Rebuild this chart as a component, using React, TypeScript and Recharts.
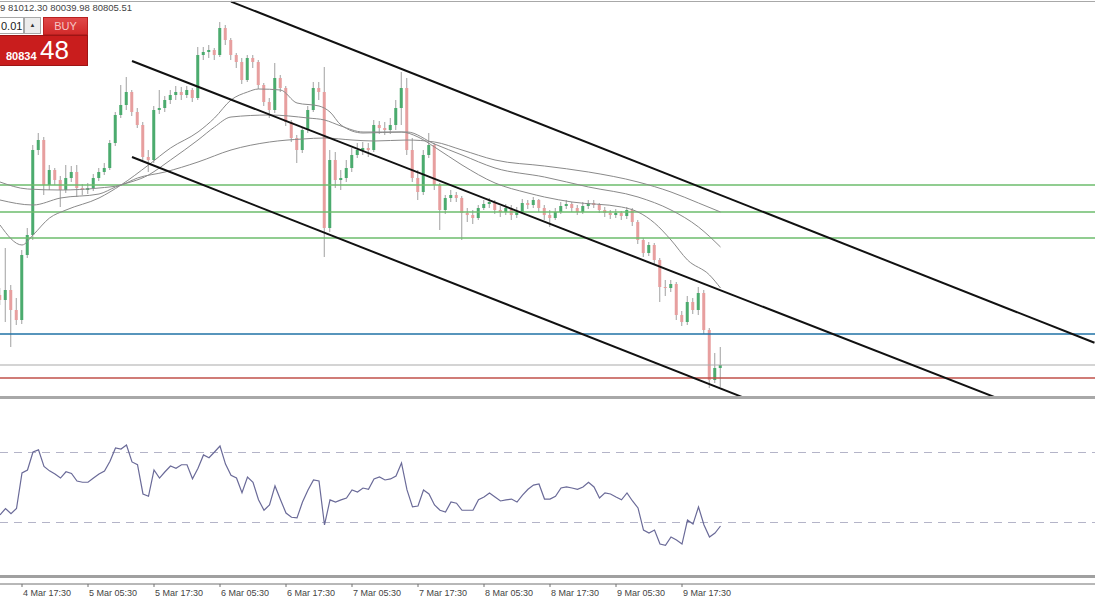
import React from 'react';
import { ComposedChart, Bar, Line, XAxis, YAxis, ReferenceLine } from 'recharts';

// H1 candles, 4 Mar 13:30 .. 9 Mar 20:30
const FIRST_OPEN = 82625;
const CLOSES = [
  82500, 82750, 82250, 82000, 83625, 84125, 86250, 86500, 85375, 85750,
  85500, 85250, 85550, 85700, 85300, 85250, 85300, 85550, 85700, 85800,
  86425, 87125, 87375, 87700, 87200, 86875, 86075, 86000, 87250, 87300,
  87500, 87625, 87700, 87625, 87750, 87550, 88625, 88700, 88750, 88625,
  89300, 89000, 88625, 88450, 88000, 88550, 88450, 87875, 87450, 87250,
  88050, 87800, 86950, 86550, 86250, 86750, 87250, 87800, 87700, 84300,
  86000, 85500, 85550, 85800, 86125, 86250, 86300, 86250, 86875, 86800,
  86750, 86875, 87300, 87800, 86250, 85550, 85200, 86125, 86375, 85375,
  84750, 85050, 85125, 85050, 84675, 84625, 84550, 84800, 84900, 84950,
  84750, 84700, 84800, 84625, 84700, 84925, 84875, 85000, 84800, 84625,
  84550, 84700, 84850, 84900, 84800, 84700, 84850, 84925, 84875, 84750,
  84675, 84625, 84675, 84600, 84750, 84450, 84000, 83675, 83875, 83500,
  82825, 82800, 82900, 82125, 81950, 82450, 82250, 82675, 81750, 80500,
  80800, 80875,
];
const HIGHS = [
  82800, 83800, 82875, 82550, 83750, 84300, 86375, 86675, 86575, 85875,
  85800, 85600, 85875, 85850, 85875, 85400, 85425, 85650, 85800, 85925,
  86500, 87200, 87875, 88075, 87750, 87300, 86950, 86250, 87350, 87750,
  87600, 87750, 87850, 87825, 87850, 87800, 88825, 88825, 88875, 88800,
  89450, 89375, 89050, 88675, 88550, 88625, 88625, 88500, 87925, 87550,
  88425, 88125, 87850, 87000, 86625, 86825, 87350, 87950, 87950, 88325,
  86250, 86200, 85750, 86000, 86300, 86425, 86450, 86425, 87000, 86975,
  86950, 87050, 87500, 88200, 88050, 86550, 85750, 86250, 86675, 86425,
  85425, 85125, 85250, 85200, 85100, 84800, 84750, 84875, 85000, 85050,
  85000, 84850, 84900, 84875, 84825, 85025, 85000, 85075, 85025, 84875,
  84750, 84800, 84950, 85000, 84950, 84875, 84950, 85000, 85000, 84925,
  84825, 84750, 84775, 84725, 84825, 84800, 84500, 84050, 83950, 83925,
  83550, 83000, 83000, 82950, 82225, 82600, 82550, 82825, 82750, 81800,
  81175, 81325,
];
const LOWS = [
  82375, 81950, 81325, 81875, 81900, 83550, 84000, 86125, 85125, 85250,
  85375, 84825, 85175, 85450, 85075, 85125, 85150, 85225, 85475, 85625,
  85750, 86350, 87050, 87250, 87100, 86800, 86000, 85700, 85925, 87150,
  87200, 87400, 87500, 87500, 87550, 87450, 87500, 88500, 88550, 88500,
  88575, 88875, 88500, 88300, 87900, 87950, 88300, 87775, 87350, 87050,
  87175, 87700, 86850, 86450, 85925, 86175, 86675, 87200, 87500, 83575,
  84200, 85300, 85250, 85450, 85700, 86050, 86125, 86075, 86200, 86650,
  86625, 86650, 86750, 86875, 86125, 85450, 85000, 85125, 86050, 85250,
  84250, 84650, 84950, 84950, 84000, 84450, 84400, 84500, 84750, 84800,
  84650, 84575, 84625, 84500, 84550, 84650, 84775, 84800, 84700, 84500,
  84325, 84500, 84650, 84775, 84700, 84625, 84650, 84775, 84800, 84675,
  84575, 84525, 84550, 84500, 84525, 84350, 83900, 83575, 83600, 83400,
  82450, 82600, 82700, 82000, 81850, 81875, 82150, 82125, 81650, 80300,
  80425, 80325,
];

// oscillator, one value per candle
const RSI = [
  34.3, 38, 35, 38, 58.3, 60, 70.3, 71.5, 62, 59.5,
  57.7, 55.4, 59, 58, 53.7, 53, 53, 55.4, 57.7, 59.4,
  65, 72.6, 72, 74.3, 64.6, 63, 46.3, 45, 60, 55.4,
  59, 62.3, 61, 63, 63, 55, 61, 68.6, 67, 70.3,
  73.7, 63.4, 57, 55.4, 47, 56, 53, 43, 37, 40,
  50.9, 43, 35.4, 33, 32.6, 41.7, 48.6, 54.3, 53.7, 28.6,
  42.9, 41.7, 42.9, 44, 48.6, 47.4, 49.7, 49, 54.9, 56,
  54.3, 54.9, 56.6, 64, 48.6, 38.9, 39.4, 48.6, 46.3, 40,
  37, 36, 41.7, 41, 37, 37, 37, 43, 44.6, 46.9,
  44.6, 42.3, 42.9, 43.4, 41.7, 45.7, 49, 51.4, 52, 43.4,
  43.4, 45, 49.7, 50.3, 49.7, 49, 50.3, 53, 50.3, 44,
  46.9, 46.3, 44.6, 43, 46.9, 42.3, 38.3, 25.7, 24, 25.7,
  17.7, 17, 21.7, 20, 17.7, 31.4, 29.1, 38.9, 28.6, 21.7,
  24, 28,
];

// moving averages: [bar, price]
const MA_FAST = [
  [0, 84375], [4, 83875], [6, 84125], [9, 84550], [12, 84750], [18, 85050],
  [22, 85375], [27, 85875], [31, 86300], [36, 86700], [39, 87050], [42, 87500],
  [45, 87700], [47, 87775], [51, 87750], [54, 87425], [58, 87350], [60, 87200],
  [62, 86875], [66, 86675], [73, 86700], [76, 86575], [79, 86325], [84, 85875],
  [90, 85425], [96, 85175], [99, 85075], [104, 84950], [113, 84825], [116, 84700],
  [119, 84425], [122, 84000], [125, 83500], [129, 83125], [131, 82800],
];
const MA_MID = [
  [0, 85000], [6, 84875], [11, 85050], [18, 85150], [21, 85325], [27, 85625],
  [31, 86000], [36, 86500], [39, 86825], [42, 87075], [49, 87125], [56, 87050],
  [59, 87000], [62, 86850], [66, 86700], [74, 86700], [79, 86400], [84, 86125],
  [90, 85800], [99, 85575], [107, 85325], [116, 85075], [122, 84750], [127, 84325],
  [131, 83825],
];
const MA_SLOW = [
  [0, 85450], [5, 85275], [11, 85250], [18, 85300], [22, 85375], [25, 85550],
  [30, 85700], [36, 85950], [42, 86250], [49, 86450], [55, 86525], [59, 86550],
  [64, 86500], [68, 86475], [74, 86500], [79, 86450], [84, 86250], [90, 86000],
  [99, 85850], [107, 85700], [116, 85450], [122, 85200], [127, 84925], [131, 84700],
];

const LEVELS_GREEN = [85375, 84700, 84050];
const LEVEL_BLUE = 81650;
const LEVEL_BID = 80875;
const LEVEL_RED = 80550;

// trend channel: [[bar, price], [bar, price]]
const CHANNEL = [
  [[42, 89960], [199, 81430]],
  [[24, 88475], [181, 80065]],
  [[24, 86075], [135, 80072]],
];

const TICK_BARS = [4, 16, 28, 40, 52, 64, 76, 88, 100, 112, 124];
const TICK_LABELS = [
  '4 Mar 17:30', '5 Mar 05:30', '5 Mar 17:30', '6 Mar 05:30', '6 Mar 17:30', '7 Mar 05:30',
  '7 Mar 17:30', '8 Mar 05:30', '8 Mar 17:30', '9 Mar 05:30', '9 Mar 17:30',
];

const HEADER = '9 81012.30 80039.98 80805.51';

const W = 1095;
const X_MAX = W / 5.5;
const FONT = '"Liberation Sans", Arial, sans-serif';
const BULL = '#4bab6e';
const BEAR = '#e79f9f';

const candles = CLOSES.map((close, i) => ({
  bar: i,
  open: i === 0 ? FIRST_OPEN : CLOSES[i - 1],
  close,
  high: HIGHS[i],
  low: LOWS[i],
  range: [LOWS[i], HIGHS[i]],
}));
const rsiData = RSI.map((rsi, i) => ({ bar: i, rsi }));
const toPoints = (arr: number[][]) => arr.map(([bar, value]) => ({ bar, value }));

function Candle(props: any) {
  const { x, y, width, height, payload } = props;
  if (!payload) return null;
  const top = Math.min(y, y + height);
  const h = Math.abs(height);
  const { open, close, high, low } = payload;
  const toY = (v: number) => top + ((high - v) / (high - low)) * h;
  const bTop = toY(Math.max(open, close));
  const bBot = toY(Math.min(open, close));
  const cx = x + width / 2;
  return (
    <g>
      <line x1={cx} x2={cx} y1={top} y2={top + h} stroke="#a0a0a0" strokeWidth={1} />
      <rect x={x} y={bTop} width={width} height={Math.max(1, bBot - bTop)} fill={close >= open ? BULL : BEAR} />
    </g>
  );
}

function AxisTick(props: any) {
  const { x, y, payload } = props;
  const idx = TICK_BARS.indexOf(payload.value);
  return (
    <text x={x + 1} y={y} dy={7} fontSize={9} fill="#444" textAnchor="start" fontFamily={FONT}>
      {TICK_LABELS[idx]}
    </text>
  );
}

const maProps = {
  dataKey: 'value',
  type: 'monotone' as const,
  stroke: '#8a8a8a',
  strokeWidth: 1,
  dot: false,
  activeDot: false,
  isAnimationActive: false,
};

export default function App() {
  return (
    <div style={{ position: 'fixed', left: 0, top: 0, width: W, height: 600, background: '#fff', overflow: 'hidden', fontFamily: FONT }}>
      <div style={{ position: 'absolute', left: 0, top: 0 }}>
        <ComposedChart width={W} height={398} data={candles} margin={{ top: 0, right: 0, bottom: 0, left: 0 }}>
          <XAxis type="number" dataKey="bar" domain={[0, X_MAX]} hide allowDataOverflow />
          <YAxis type="number" domain={[80050, 90000]} hide allowDataOverflow />
          {LEVELS_GREEN.map((p) => (
            <ReferenceLine key={p} y={p} stroke="#6cbd6c" strokeWidth={1.5} />
          ))}
          <ReferenceLine y={LEVEL_BLUE} stroke="#1f72a6" strokeWidth={1.5} />
          <ReferenceLine y={LEVEL_BID} stroke="#a9a9a9" strokeWidth={1} />
          <ReferenceLine y={LEVEL_RED} stroke="#c0504a" strokeWidth={1.5} />
          <Bar dataKey="range" barSize={3} shape={<Candle />} isAnimationActive={false} />
          <Line data={toPoints(MA_SLOW)} {...maProps} />
          <Line data={toPoints(MA_MID)} {...maProps} />
          <Line data={toPoints(MA_FAST)} {...maProps} />
          {CHANNEL.map((seg, k) => (
            <ReferenceLine
              key={k}
              segment={[{ x: seg[0][0], y: seg[0][1] }, { x: seg[1][0], y: seg[1][1] }]}
              stroke="#111"
              strokeWidth={2}
              ifOverflow="hidden"
            />
          ))}
        </ComposedChart>
      </div>

      <div style={{ position: 'absolute', left: 0, top: 400 }}>
        <ComposedChart width={W} height={200} data={rsiData} margin={{ top: 0, right: 0, bottom: 0, left: 0 }}>
          <XAxis
            type="number"
            dataKey="bar"
            domain={[0, X_MAX]}
            ticks={TICK_BARS}
            interval={0}
            tick={<AxisTick />}
            tickSize={3}
            axisLine={{ stroke: '#707070' }}
            tickLine={{ stroke: '#707070' }}
            height={16}
            allowDataOverflow
          />
          <YAxis type="number" domain={[-5.14, 100]} hide allowDataOverflow />
          <ReferenceLine y={70} stroke="#b4b4c8" strokeDasharray="8 6" />
          <ReferenceLine y={30} stroke="#b4b4c8" strokeDasharray="8 6" />
          <Line dataKey="rsi" type="linear" stroke="#6a6a98" strokeWidth={1.2} dot={false} activeDot={false} isAnimationActive={false} />
        </ComposedChart>
      </div>

      {/* frame */}
      <div style={{ position: 'absolute', left: 0, top: 1, width: W, height: 1, background: '#a8a8a8' }} />
      <div style={{ position: 'absolute', left: 0, top: 396, width: W, height: 3, background: '#a8a8a8' }} />
      <div style={{ position: 'absolute', left: 0, top: 575, width: W, height: 3, background: '#a0a0a0' }} />

      {/* header values */}
      <div style={{ position: 'absolute', left: 0, top: 2, fontSize: 9.5, color: '#444', whiteSpace: 'nowrap' }}>{HEADER}</div>

      {/* one-click trading panel */}
      <div style={{ position: 'absolute', left: 0, top: 17, width: 24, height: 17, background: '#fff', border: '1px solid #a8a8a8', borderLeft: 'none', boxSizing: 'border-box', fontSize: 11, color: '#222', lineHeight: '16px', paddingLeft: 1 }}>
        0.01
      </div>
      <div style={{ position: 'absolute', left: 24, top: 17, width: 17, height: 17, background: '#ececec', border: '1px solid #a8a8a8', boxSizing: 'border-box', fontSize: 6, color: '#333', textAlign: 'center', lineHeight: '15px' }}>
        ▲
      </div>
      <div style={{ position: 'absolute', left: 43, top: 17, width: 45, height: 18, background: 'linear-gradient(#e04848, #d22a2a)', border: '1px solid #b82020', boxSizing: 'border-box', fontSize: 11, color: '#f7c6c6', textAlign: 'center', lineHeight: '16px' }}>
        BUY
      </div>
      <div style={{ position: 'absolute', left: 0, top: 35, width: 88, height: 31, background: '#c91d1d', border: '1px solid #9e1414', borderLeft: 'none', boxSizing: 'border-box' }}>
        <span style={{ position: 'absolute', left: 6, top: 14, fontSize: 11, fontWeight: 'bold', color: '#fff' }}>80834</span>
        <span style={{ position: 'absolute', left: 40, top: 0, fontSize: 26, color: '#fff', lineHeight: '29px' }}>48</span>
      </div>
    </div>
  );
}
